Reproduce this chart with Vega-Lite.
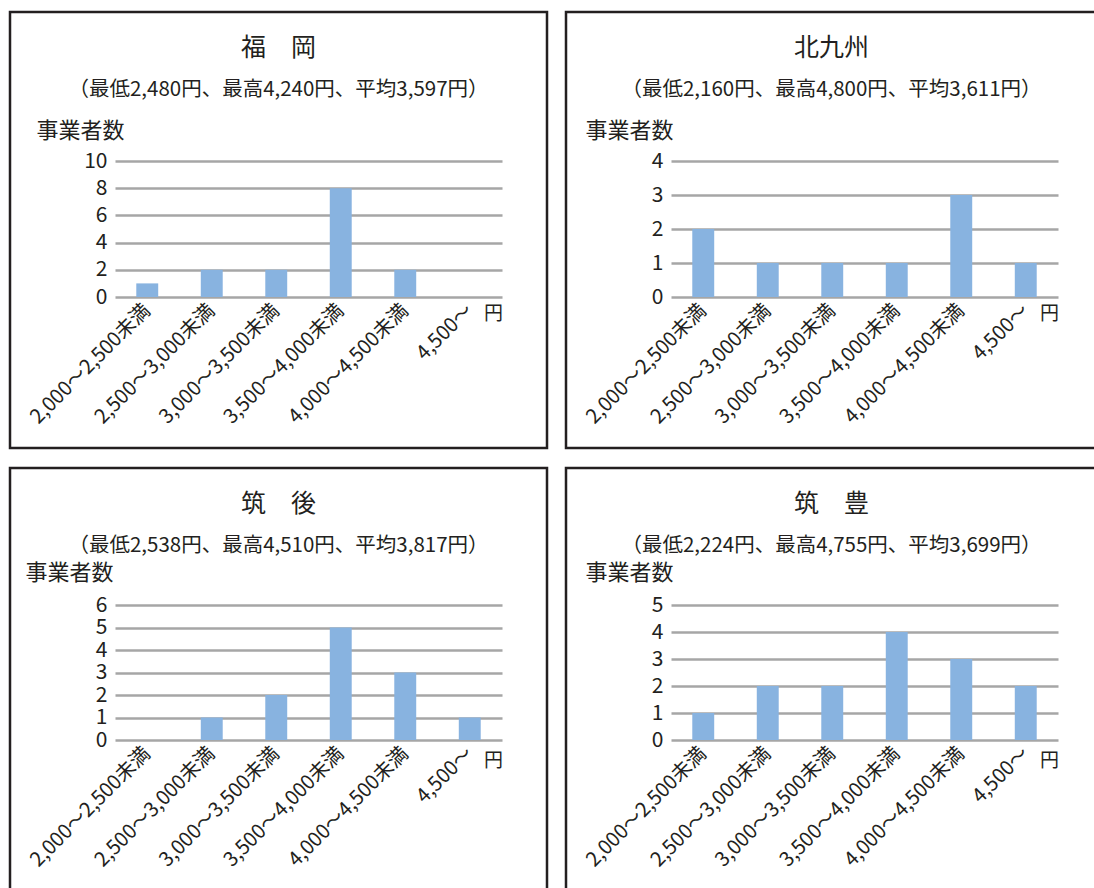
{
  "$schema": "https://vega.github.io/schema/vega-lite/v6.json",
  "background": "white",
  "padding": {"left": 8, "top": 10, "right": 0, "bottom": 0},
  "config": {
    "font": "Noto Sans CJK JP",
    "view": {"stroke": "#231f20", "strokeWidth": 2.5, "fill": "white"},
    "title": {"anchor": "middle", "frame": "group", "fontSize": 25, "fontWeight": "normal", "color": "#231f20", "subtitleFontSize": 20.5, "subtitleColor": "#231f20", "subtitleFont": "Noto Sans CJK JP", "offset": -88, "subtitlePadding": 19},
    "axisY": {"domain": false, "ticks": false, "grid": true, "gridColor": "#a6a6a6", "gridWidth": 2.5, "labelFontSize": 21, "labelColor": "#231f20", "labelPadding": 8, "titleAngle": 0, "titleAlign": "center", "titleBaseline": "middle", "titleFontSize": 22, "titleFontWeight": "normal", "titleColor": "#231f20"},
    "axisX": {"domain": false, "ticks": false, "grid": false, "labelAngle": -45, "labelAlign": "right", "labelBaseline": "middle", "labelFontSize": 20, "labelColor": "#231f20", "labelPadding": 10, "titleAngle": 0, "titleAlign": "center", "titleBaseline": "middle", "titleFontSize": 19, "titleFontWeight": "normal", "titleColor": "#231f20"},
    "bar": {"color": "#88b3e0"}
  },
  "datasets": {
    "fukuoka": [
      {"range": "2,000～2,500未満", "count": 1},
      {"range": "2,500～3,000未満", "count": 2},
      {"range": "3,000～3,500未満", "count": 2},
      {"range": "3,500～4,000未満", "count": 8},
      {"range": "4,000～4,500未満", "count": 2},
      {"range": "4,500～", "count": 0}
    ],
    "kitakyushu": [
      {"range": "2,000～2,500未満", "count": 2},
      {"range": "2,500～3,000未満", "count": 1},
      {"range": "3,000～3,500未満", "count": 1},
      {"range": "3,500～4,000未満", "count": 1},
      {"range": "4,000～4,500未満", "count": 3},
      {"range": "4,500～", "count": 1}
    ],
    "chikugo": [
      {"range": "2,000～2,500未満", "count": 0},
      {"range": "2,500～3,000未満", "count": 1},
      {"range": "3,000～3,500未満", "count": 2},
      {"range": "3,500～4,000未満", "count": 5},
      {"range": "4,000～4,500未満", "count": 3},
      {"range": "4,500～", "count": 1}
    ],
    "chikuho": [
      {"range": "2,000～2,500未満", "count": 1},
      {"range": "2,500～3,000未満", "count": 2},
      {"range": "3,000～3,500未満", "count": 2},
      {"range": "3,500～4,000未満", "count": 4},
      {"range": "4,000～4,500未満", "count": 3},
      {"range": "4,500～", "count": 2}
    ]
  },
  "columns": 2,
  "spacing": {"row": 16, "column": 15},
  "concat": [
    {
      "width": 537, "height": 436,
      "title": {"text": "福　岡", "subtitle": "（最低2,480円、最高4,240円、平均3,597円）"},
      "data": {"name": "fukuoka"},
      "mark": {"type": "bar"},
      "encoding": {
        "x": {"field": "range", "type": "nominal", "sort": null, "title": "円",
              "scale": {"range": [105, 492], "paddingInner": 0.66, "paddingOuter": 0.33},
              "axis": {"offset": -151, "titleX": 483, "titleY": 16}},
        "y": {"field": "count", "type": "quantitative", "title": "事業者数",
              "scale": {"domain": [0, 10], "nice": false, "range": [285, 149]},
              "axis": {"values": [0, 2, 4, 6, 8, 10], "offset": -105, "titleX": -35, "titleY": 118}}
      }
    },
    {
      "width": 531, "height": 436,
      "title": {"text": "北九州", "subtitle": "（最低2,160円、最高4,800円、平均3,611円）"},
      "data": {"name": "kitakyushu"},
      "mark": {"type": "bar"},
      "encoding": {
        "x": {"field": "range", "type": "nominal", "sort": null, "title": "円",
              "scale": {"range": [105, 492], "paddingInner": 0.66, "paddingOuter": 0.33},
              "axis": {"offset": -151, "titleX": 483, "titleY": 16}},
        "y": {"field": "count", "type": "quantitative", "title": "事業者数",
              "scale": {"domain": [0, 4], "nice": false, "range": [285, 149]},
              "axis": {"values": [0, 1, 2, 3, 4], "offset": -105, "titleX": -42, "titleY": 118}}
      }
    },
    {
      "width": 537, "height": 422,
      "title": {"text": "筑　後", "subtitle": "（最低2,538円、最高4,510円、平均3,817円）"},
      "data": {"name": "chikugo"},
      "mark": {"type": "bar"},
      "encoding": {
        "x": {"field": "range", "type": "nominal", "sort": null, "title": "円",
              "scale": {"range": [105, 492], "paddingInner": 0.66, "paddingOuter": 0.33},
              "axis": {"offset": -150, "titleX": 483, "titleY": 20}},
        "y": {"field": "count", "type": "quantitative", "title": "事業者数",
              "scale": {"domain": [0, 6], "nice": false, "range": [272, 137]},
              "axis": {"values": [0, 1, 2, 3, 4, 5, 6], "offset": -105, "titleX": -46, "titleY": 104}}
      }
    },
    {
      "width": 531, "height": 422,
      "title": {"text": "筑　豊", "subtitle": "（最低2,224円、最高4,755円、平均3,699円）"},
      "data": {"name": "chikuho"},
      "mark": {"type": "bar"},
      "encoding": {
        "x": {"field": "range", "type": "nominal", "sort": null, "title": "円",
              "scale": {"range": [105, 492], "paddingInner": 0.66, "paddingOuter": 0.33},
              "axis": {"offset": -150, "titleX": 483, "titleY": 20}},
        "y": {"field": "count", "type": "quantitative", "title": "事業者数",
              "scale": {"domain": [0, 5], "nice": false, "range": [272, 137]},
              "axis": {"values": [0, 1, 2, 3, 4, 5], "offset": -105, "titleX": -42, "titleY": 104}}
      }
    }
  ]
}
